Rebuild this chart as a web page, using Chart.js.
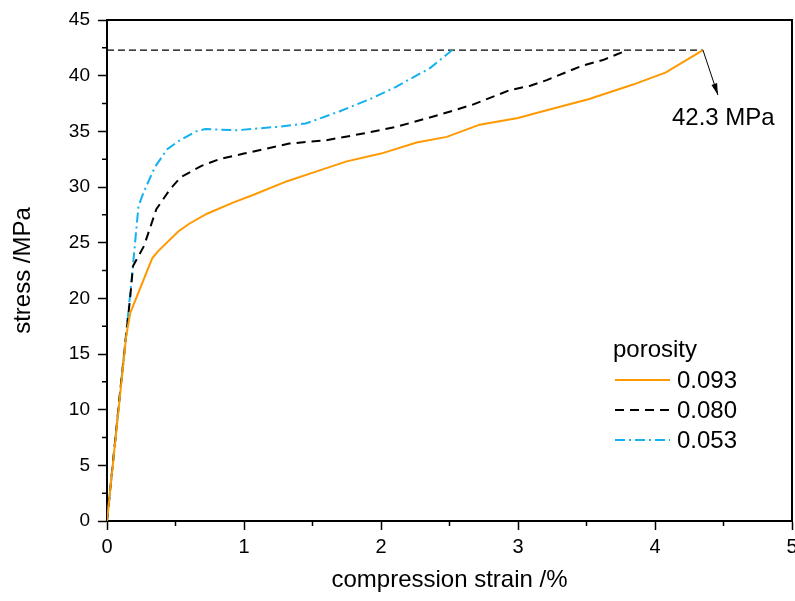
<!DOCTYPE html>
<html>
<head>
<meta charset="utf-8">
<script src="https://cdn.jsdelivr.net/npm/chart.js@4.4.0/dist/chart.umd.min.js"></script>
<style>
  html, body { margin: 0; padding: 0; background: #fff; }
  #wrap { width: 795px; height: 601px; }
</style>
</head>
<body>
<div id="wrap"><canvas id="chart" width="795" height="601"></canvas></div>
<script>
// --- Stress-strain curves, one per porosity ---
const strain093 = [0, 0.14, 0.17, 0.33, 0.37, 0.52, 0.60, 0.73, 0.92, 1.07, 1.31, 1.53, 1.75, 2.00, 2.26, 2.48, 2.72, 3.00, 3.21, 3.52, 3.84, 4.08, 4.35];
const stress093 = [0, 16.6, 18.7, 23.6, 24.2, 26.0, 26.7, 27.6, 28.6, 29.3, 30.5, 31.4, 32.3, 33.0, 34.0, 34.5, 35.6, 36.2, 36.9, 37.9, 39.2, 40.3, 42.3];

const strain080 = [0, 0.095, 0.17, 0.19, 0.27, 0.36, 0.46, 0.54, 0.69, 0.82, 1.00, 1.33, 1.60, 1.87, 2.11, 2.43, 2.67, 2.94, 3.09, 3.21, 3.47, 3.62, 3.80];
const stress080 = [0, 11.5, 20.2, 22.9, 24.7, 28.0, 29.8, 30.9, 31.9, 32.5, 33.0, 33.9, 34.2, 34.8, 35.4, 36.5, 37.4, 38.7, 39.1, 39.6, 40.9, 41.4, 42.3];

const strain053 = [0, 0.18, 0.23, 0.27, 0.35, 0.44, 0.52, 0.65, 0.72, 0.95, 1.24, 1.45, 1.70, 1.94, 2.11, 2.36, 2.52];
const stress053 = [0, 21.7, 28.3, 29.6, 31.8, 33.4, 34.1, 35.0, 35.2, 35.1, 35.4, 35.7, 36.8, 38.0, 39.0, 40.7, 42.3];

const porosityLabels = ['0.093', '0.080', '0.053'];

// peak strength marker
const peakStrain = 4.35;
const peakStress = 42.3;
const peakLabel = '42.3 MPa';

const FONT = '"Liberation Sans", Arial, sans-serif';

const toPoints = (xs, ys) => xs.map((v, i) => ({ x: v, y: ys[i] }));

// top/right box edges, minor ticks, legend and the peak arrow
const extras = {
    id: 'extras',
    afterDraw(chart) {
        const { ctx, chartArea: a, scales: { x, y } } = chart;
        ctx.save();
        ctx.strokeStyle = '#000';
        ctx.lineWidth = 2;
        ctx.beginPath();
        ctx.moveTo(a.left, a.top);
        ctx.lineTo(a.right, a.top);
        ctx.lineTo(a.right, a.bottom);
        ctx.stroke();

        ctx.lineWidth = 1.5;
        ctx.beginPath();
        for (let v = 0.5; v < 5; v += 1) {
            const px = x.getPixelForValue(v);
            ctx.moveTo(px, a.bottom);
            ctx.lineTo(px, a.bottom + 5);
        }
        for (let v = 2.5; v < 45; v += 5) {
            const py = y.getPixelForValue(v);
            ctx.moveTo(a.left, py);
            ctx.lineTo(a.left - 5, py);
        }
        ctx.stroke();

        // legend
        ctx.font = '24px ' + FONT;
        ctx.fillStyle = '#000';
        ctx.textBaseline = 'middle';
        ctx.textAlign = 'left';
        ctx.fillText('porosity', 613, 350);
        chart.data.datasets.filter(d => d.label).forEach((d, i) => {
            const ly = 380 + i * 30;
            ctx.strokeStyle = d.borderColor;
            ctx.lineWidth = d.borderWidth;
            ctx.setLineDash(d.borderDash || []);
            ctx.beginPath();
            ctx.moveTo(615, ly);
            ctx.lineTo(670, ly);
            ctx.stroke();
            ctx.setLineDash([]);
            ctx.fillText(d.label, 677, ly + 1);
        });

        // arrow to the peak
        const px = x.getPixelForValue(peakStrain);
        const py = y.getPixelForValue(peakStress);
        const tx = px + 15, ty = py + 45;
        const ang = Math.atan2(ty - py, tx - px);
        ctx.strokeStyle = '#000';
        ctx.lineWidth = 1;
        ctx.beginPath();
        ctx.moveTo(px, py);
        ctx.lineTo(tx, ty);
        ctx.stroke();
        ctx.beginPath();
        ctx.moveTo(tx, ty);
        ctx.lineTo(tx - 12 * Math.cos(ang - 0.25), ty - 12 * Math.sin(ang - 0.25));
        ctx.lineTo(tx - 12 * Math.cos(ang + 0.25), ty - 12 * Math.sin(ang + 0.25));
        ctx.closePath();
        ctx.fill();
        ctx.fillText(peakLabel, px - 31, py + 68);
        ctx.restore();
    }
};

const fixScale = (w, h) => scale => {
    if (w) scale.width = w;
    if (h) scale.height = h;
    scale.paddingLeft = scale.paddingRight = scale.paddingTop = scale.paddingBottom = 0;
};

new Chart(document.getElementById('chart'), {
    type: 'line',
    data: {
        datasets: [
            {
                label: porosityLabels[0],
                data: toPoints(strain093, stress093),
                borderColor: '#ff9900',
                borderWidth: 2
            },
            {
                label: porosityLabels[1],
                data: toPoints(strain080, stress080),
                borderColor: '#000000',
                borderWidth: 2,
                borderDash: [9, 6]
            },
            {
                label: porosityLabels[2],
                data: toPoints(strain053, stress053),
                borderColor: '#14b0ef',
                borderWidth: 2,
                borderDash: [10, 4, 2, 4]
            },
            {
                // peak level guide
                data: [{ x: 0, y: peakStress }, { x: peakStrain, y: peakStress }],
                borderColor: '#000000',
                borderWidth: 1.2,
                borderDash: [7, 4]
            }
        ]
    },
    options: {
        responsive: false,
        animation: false,
        layout: { padding: { top: 20, right: 3, left: 0, bottom: 0 } },
        elements: {
            point: { radius: 0 },
            line: { tension: 0, fill: false }
        },
        plugins: {
            legend: { display: false },
            tooltip: { enabled: false }
        },
        scales: {
            x: {
                type: 'linear',
                min: 0,
                max: 5,
                afterFit: fixScale(0, 80),
                border: { display: true, color: '#000', width: 2 },
                grid: {
                    drawOnChartArea: false,
                    drawTicks: true,
                    tickLength: 9,
                    tickWidth: 1.5,
                    tickColor: c => Number.isInteger(c.tick && c.tick.value) ? '#000' : 'rgba(0,0,0,0)'
                },
                ticks: {
                    stepSize: 0.5,
                    autoSkip: false,
                    maxRotation: 0,
                    padding: 5,
                    color: '#000',
                    font: { family: FONT, size: 20 },
                    callback: v => Number.isInteger(v) ? v : ''
                },
                title: {
                    display: true,
                    text: 'compression strain /%',
                    color: '#000',
                    font: { family: FONT, size: 24 },
                    padding: { top: 0, bottom: 6 }
                }
            },
            y: {
                min: 0,
                max: 45,
                afterFit: fixScale(107, 0),
                border: { display: true, color: '#000', width: 2 },
                grid: {
                    drawOnChartArea: false,
                    drawTicks: true,
                    tickLength: 9,
                    tickWidth: 1.5,
                    tickColor: c => (c.tick && c.tick.value % 5 === 0) ? '#000' : 'rgba(0,0,0,0)'
                },
                ticks: {
                    stepSize: 2.5,
                    autoSkip: false,
                    padding: 8,
                    color: '#000',
                    font: { family: FONT, size: 19 },
                    callback: v => v % 5 === 0 ? v : ''
                },
                title: {
                    display: true,
                    text: 'stress /MPa',
                    color: '#000',
                    font: { family: FONT, size: 24 },
                    padding: { top: 9, bottom: 0 }
                }
            }
        }
    },
    plugins: [extras]
});
</script>
</body>
</html>
